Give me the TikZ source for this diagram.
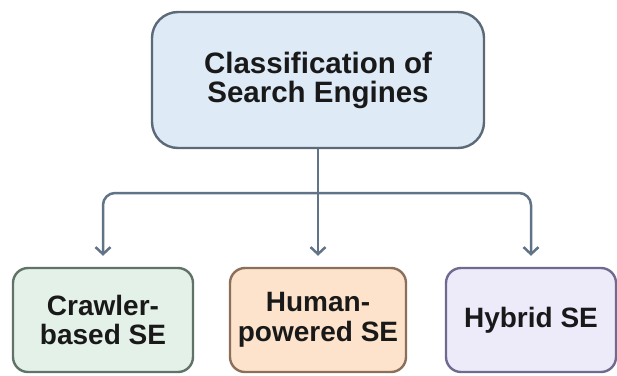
\documentclass[tikz,border=0pt]{standalone}
\usepackage{fontspec}
\setmainfont{Liberation Sans}
\usetikzlibrary{arrows.meta}
\definecolor{linkgray}{HTML}{617386}
\definecolor{titlefill}{HTML}{DEEBF7}
\definecolor{titledraw}{HTML}{5C6977}
\definecolor{crawlfill}{HTML}{E4F1E8}
\definecolor{crawldraw}{HTML}{5F7369}
\definecolor{humanfill}{HTML}{FDE3CB}
\definecolor{humandraw}{HTML}{8C6F5A}
\definecolor{hybridfill}{HTML}{EDEAFA}
\definecolor{hybriddraw}{HTML}{6F6B8E}
\begin{document}
\begin{tikzpicture}[x=1pt,y=-1pt,
  box/.style={draw,line width=2.4pt,rounded corners=15pt,align=center,inner sep=0pt,
    text=black!90,font=\fontsize{28}{29.5}\selectfont\bfseries,minimum height=104pt},
  link/.style={draw=linkgray,line width=2.5pt,rounded corners=12pt}]
\useasboundingbox (0,0) rectangle (617,375);

\node[box,fill=titlefill,draw=titledraw,rounded corners=26pt,minimum width=332pt,minimum height=136pt,
  font=\fontsize{29.5}{29}\selectfont\bfseries] (title) at (318,80) {Classification of\\Search Engines};

\node[box,fill=crawlfill,draw=crawldraw,minimum width=180pt] (crawler) at (103,320) {Crawler-\\based SE};
\node[box,fill=humanfill,draw=humandraw,minimum width=176pt] (human) at (318,320) {Human-\\powered SE};
\node[box,fill=hybridfill,draw=hybriddraw,minimum width=170pt] (hybrid) at (531,320) {Hybrid SE};

\coordinate (split) at (318,193);
\draw[link] (title.south) -- (split);
\draw[link,-{Straight Barb[length=7pt,width=15pt]},shorten >=11pt] (split) -| (crawler.north);
\draw[link,-{Straight Barb[length=7pt,width=15pt]},shorten >=11pt] (split) -- (human.north);
\draw[link,-{Straight Barb[length=7pt,width=15pt]},shorten >=11pt] (split) -| (hybrid.north);
\end{tikzpicture}
\end{document}
